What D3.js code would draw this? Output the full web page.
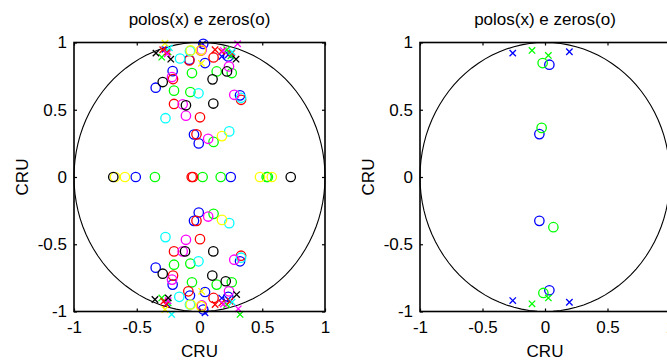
<!DOCTYPE html>
<html>
<head>
<meta charset="utf-8">
<script src="https://cdn.jsdelivr.net/npm/d3@7"></script>
<style>
  body { margin: 0; background: #fff; }
  svg { display: block; font-family: "Liberation Sans", Arial, sans-serif; }
</style>
</head>
<body>
<script>
// tick labels
const tickVals = [-1, -0.5, 0, 0.5, 1];
const titleText = 'polos(x) e zeros(o)';
const axisLabel = 'CRU';

// left panel: zeros (o) and poles (x) per color, [re, im]
const zerosBlue = [[-0.349, 0.664], [-0.214, 0.787], [-0.081, 0.872], [0.030, 0.990], [0.044, 0.847], [0.229, 0.896], [0.323, 0.607], [-0.044, 0.316], [-0.006, 0.250],
  [-0.508, 0], [0.249, 0],
  [-0.349, -0.674], [-0.214, -0.800], [-0.076, -0.881], [0.030, -0.985], [0.044, -0.855], [0.229, -0.891], [0.323, -0.627], [-0.044, -0.326], [-0.006, -0.264]];
const polesBlue = [[-0.275, 0.950], [0.025, 0.990], [0.229, 0.909], [0.177, 0.896],
  [-0.261, -0.943], [0.044, -1.010], [0.229, -0.911], [0.177, -0.900]];

const zerosGreen = [[-0.203, 0.642], [-0.073, 0.632], [-0.060, 0.773], [0.137, 0.785], [0.257, 0.773], [0.112, 0.261],
  [-0.355, 0], [0.025, 0], [0.169, 0], [0.535, 0], [0.545, 0],
  [-0.203, -0.652], [-0.073, -0.644], [-0.060, -0.783], [0.137, -0.800], [0.257, -0.783], [0.112, -0.274]];
const polesGreen = [[-0.301, 0.891], [-0.250, 0.930], [0.217, 0.946], [0.250, 0.900],
  [-0.301, -0.899], [-0.250, -0.935], [0.217, -0.948], [0.323, -1.022]];

const zerosRed = [[-0.203, 0.543], [0.004, 0.444], [-0.024, 0.317], [0.331, 0.574], [-0.211, 0.728], [-0.081, 0.867], [0.112, 0.889], [0.012, 0.941],
  [-0.062, 0], [-0.052, 0],
  [-0.203, -0.553], [0.004, -0.462], [-0.024, -0.326], [0.331, -0.585], [-0.211, -0.733], [-0.089, -0.850], [0.112, -0.899], [0.017, -0.960]];
const polesRed = [[-0.293, 0.946], [-0.257, 0.930], [0.124, 0.946], [0.177, 0.933], [0.257, 0.921],
  [-0.285, -0.924], [-0.266, -0.948], [0.124, -0.948], [0.177, -0.936], [0.243, -0.924]];

const zerosCyan = [[-0.271, 0.437], [-0.008, 0.622], [0.237, 0.339], [0.331, 0.589], [-0.155, 0.881], [-0.076, 0.937],
  [-0.271, -0.447], [-0.008, -0.627], [0.237, -0.343], [0.331, -0.600], [-0.161, -0.891], [-0.076, -0.948]];
const polesCyan = [[-0.240, 0.960], [0.260, 0.930],
  [-0.222, -1.022], [0.260, -0.930]];

const zerosMagenta = [[-0.134, 0.541], [-0.108, 0.456], [0.069, 0.284], [0.277, 0.611], [-0.219, 0.743], [0.235, 0.822], [0.018, 0.946],
  [-0.134, -0.553], [-0.108, -0.467], [0.069, -0.294], [0.277, -0.615], [-0.219, -0.763], [0.235, -0.850], [0.018, -0.955]];
const polesMagenta = [[-0.257, 0.916], [0.304, 0.990], [0.190, 0.940],
  [-0.250, -0.920], [0.309, -0.980], [0.190, -0.945]];

const zerosYellow = [[0.179, 0.304], [-0.070, 0.941], [0.012, 0.944],
  [-0.673, 0], [-0.594, 0], [0.482, 0], [0.576, 0],
  [0.179, -0.319], [-0.070, -0.948], [0.012, -0.960]];
const polesYellow = [[-0.275, 0.995], [0.015, 0.845],
  [-0.275, -0.985], [0.017, -0.850]];

const zerosBlack = [[-0.293, 0.706], [-0.108, 0.533], [0.110, 0.546], [0.104, 0.726], [0.219, 0.785],
  [-0.687, 0], [0.727, 0],
  [-0.293, -0.719], [-0.115, -0.553], [0.110, -0.553], [0.102, -0.733], [0.209, -0.775]];
const polesBlack = [[-0.347, 0.921], [-0.229, 0.876], [0.291, 0.876],
  [-0.355, -0.911], [-0.249, -0.899], [0.296, -0.874]];

// right panel
const zerosBlue2 = [[0.035, 0.835], [-0.045, 0.319], [-0.045, -0.326], [0.035, -0.842]];
const polesBlue2 = [[-0.258, 0.921], [0.195, 0.931], [-0.258, -0.919], [0.195, -0.931]];
const zerosGreen2 = [[-0.019, 0.847], [-0.027, 0.365], [0.067, -0.373], [-0.013, -0.862]];
const polesGreen2 = [[-0.104, 0.941], [0.027, 0.904], [-0.104, -0.943], [0.027, -0.899]];

const leftSeries = [
  { color: '#0000ff', zeros: zerosBlue, poles: polesBlue },
  { color: '#00ff00', zeros: zerosGreen, poles: polesGreen },
  { color: '#ff0000', zeros: zerosRed, poles: polesRed },
  { color: '#00ffff', zeros: zerosCyan, poles: polesCyan },
  { color: '#ff00ff', zeros: zerosMagenta, poles: polesMagenta },
  { color: '#ffff00', zeros: zerosYellow, poles: polesYellow },
  { color: '#000000', zeros: zerosBlack, poles: polesBlack }
];
const rightSeries = [
  { color: '#0000ff', zeros: zerosBlue2, poles: polesBlue2 },
  { color: '#00ff00', zeros: zerosGreen2, poles: polesGreen2 }
];

const W = 667, H = 362;
const svg = d3.select('body').append('svg')
  .attr('width', W)
  .attr('height', H)
  .style('font-size', '17px');

function panel(left, right, series, labelX) {
  const top = 42.5, bottom = 311.5;
  const x = d3.scaleLinear().domain([-1, 1]).range([left, right]);
  const y = d3.scaleLinear().domain([-1, 1]).range([bottom, top]);
  const g = svg.append('g');

  // unit circle
  const circ = d3.range(0, 101).map(i => [Math.cos(i * 2 * Math.PI / 100), Math.sin(i * 2 * Math.PI / 100)]);
  g.append('path')
    .attr('d', d3.line().x(d => x(d[0])).y(d => y(d[1]))(circ))
    .attr('fill', 'none')
    .attr('stroke', '#000')
    .attr('stroke-width', 1.1);

  // markers
  series.forEach(s => {
    g.append('g').selectAll('circle')
      .data(s.zeros)
      .enter().append('circle')
      .attr('cx', d => x(d[0]))
      .attr('cy', d => y(d[1]))
      .attr('r', 4.7)
      .attr('fill', 'none')
      .attr('stroke', s.color)
      .attr('stroke-width', 1.3);
    g.append('g').selectAll('path')
      .data(s.poles)
      .enter().append('path')
      .attr('d', d => {
        const cx = x(d[0]), cy = y(d[1]), k = 3.2;
        return `M${cx - k},${cy - k}L${cx + k},${cy + k}M${cx - k},${cy + k}L${cx + k},${cy - k}`;
      })
      .attr('stroke', s.color)
      .attr('stroke-width', 1.3);
  });

  // axes, ticks inward
  const fmt = d => String(d);
  const ax = svg.append('g').attr('transform', `translate(0,${bottom})`)
    .call(d3.axisBottom(x).tickValues(tickVals).tickFormat(fmt).tickSize(-3).tickPadding(9.5));
  svg.append('g').attr('transform', `translate(0,${top})`)
    .call(d3.axisTop(x).tickValues(tickVals).tickFormat('').tickSize(-3));
  const ay = svg.append('g').attr('transform', `translate(${left},0)`)
    .call(d3.axisLeft(y).tickValues(tickVals).tickFormat(fmt).tickSize(-3).tickPadding(7));
  svg.append('g').attr('transform', `translate(${right},0)`)
    .call(d3.axisRight(y).tickValues(tickVals).tickFormat('').tickSize(-3));
  svg.selectAll('.domain').remove();
  svg.selectAll('.tick line').attr('stroke', '#000').attr('stroke-width', 1.2);
  svg.selectAll('.tick text').attr('fill', '#000').style('font-size', '17px').style('font-family', '"Liberation Sans", Arial, sans-serif');

  svg.append('rect')
    .attr('x', left).attr('y', top)
    .attr('width', right - left).attr('height', bottom - top)
    .attr('fill', 'none')
    .attr('stroke', '#000')
    .attr('stroke-width', 1.6);

  svg.append('text')
    .attr('x', (left + right) / 2).attr('y', 25)
    .attr('text-anchor', 'middle')
    .text(titleText);
  svg.append('text')
    .attr('x', (left + right) / 2).attr('y', 356.5)
    .attr('text-anchor', 'middle')
    .text(axisLabel);
  svg.append('text')
    .attr('transform', `translate(${labelX},${(top + bottom) / 2}) rotate(-90)`)
    .attr('text-anchor', 'middle')
    .text(axisLabel);
}

panel(74, 325, leftSeries, 28);
panel(420, 670, rightSeries, 374);
</script>
</body>
</html>
